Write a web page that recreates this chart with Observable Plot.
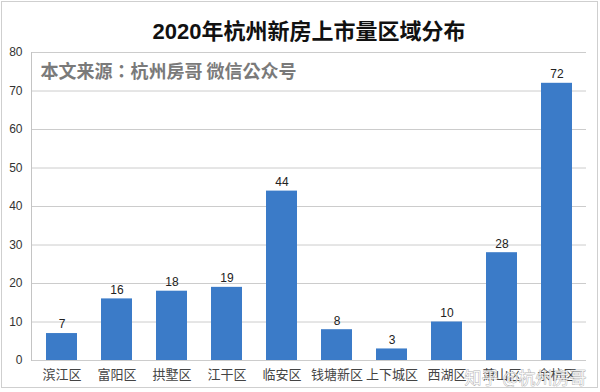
<!DOCTYPE html>
<html>
<head>
<meta charset="utf-8">
<script src="https://cdn.jsdelivr.net/npm/d3@7"></script>
<script src="https://cdn.jsdelivr.net/npm/@observablehq/plot@0.6"></script>
<style>
  html, body { margin: 0; padding: 0; background: #fff; }
  #wrap { position: relative; width: 600px; height: 392px; }
  #border { position: absolute; left: 1px; top: 1px; right: 2px; bottom: 4px; border: 1px solid #cfcfcf; pointer-events: none; }
</style>
</head>
<body>
<div id="wrap"><div id="border"></div></div>
<script>
const title = "2020年杭州新房上市量区域分布";
const source = "本文来源：杭州房哥 微信公众号";
const watermark = "知乎 @杭州房哥";
const districts = ["滨江区", "富阳区", "拱墅区", "江干区", "临安区", "钱塘新区", "上下城区", "西湖区", "萧山区", "余杭区"];
const counts = [7, 16, 18, 19, 44, 8, 3, 10, 28, 72];
const yTicks = [0, 10, 20, 30, 40, 50, 60, 70, 80];

const data = districts.map((d, i) => ({district: d, count: counts[i]}));
const sans = "'Liberation Sans', 'Noto Sans CJK SC', sans-serif";

const chart = Plot.plot({
  width: 600,
  height: 392,
  marginLeft: 31,
  marginRight: 14,
  marginTop: 52,
  marginBottom: 32,
  style: {fontFamily: sans, background: "#fff"},
  x: {domain: districts, paddingInner: 0.44, paddingOuter: 0.22, label: null},
  y: {domain: [0, 80], label: null},
  marks: [
    Plot.ruleY(yTicks, {stroke: "#cccccc", strokeWidth: 1}),
    Plot.frame({anchor: "left", stroke: "#c4c4c4"}),
    Plot.barY(data, {x: "district", y: "count", fill: "#3b7bc8"}),
    Plot.text(data, {x: "district", y: "count", text: d => String(d.count), dy: -9, fontSize: 12, fill: "#222", fontFamily: sans}),
    Plot.axisY({ticks: yTicks, tickSize: 0, tickPadding: 9, fontSize: 12, fill: "#333", label: null}),
    Plot.axisX({tickSize: 0, tickPadding: 9, fontSize: 13, fill: "#444", label: null, fontFamily: "'Noto Sans CJK SC', sans-serif"}),
    Plot.text([title], {frameAnchor: "top", dy: -29, fontSize: 22, fontWeight: "bold", fill: "#111", fontFamily: sans}),
    Plot.text([source], {frameAnchor: "top-left", textAnchor: "start", lineAnchor: "middle", dx: 9, dy: 20, fontSize: 18, fontWeight: "bold", fill: "#7a7a7a", fontFamily: "'Noto Sans CJK TC', 'Noto Sans CJK SC', sans-serif"}),
    Plot.text([watermark], {frameAnchor: "bottom-right", textAnchor: "end", lineAnchor: "middle", dx: 0, dy: 18, fontSize: 17, fill: "#ffffff", fillOpacity: 0.75, stroke: "#9a9a9a", strokeWidth: 0.6, fontFamily: "'Noto Sans CJK SC', sans-serif"})
  ]
});
document.getElementById("wrap").prepend(chart);
</script>
</body>
</html>
